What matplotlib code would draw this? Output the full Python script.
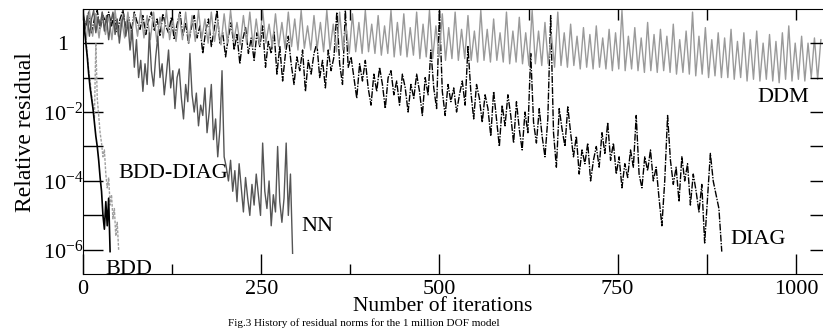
import numpy as np
import matplotlib.pyplot as plt

plt.rcParams["font.family"] = ["Liberation Serif", "DejaVu Serif"]
plt.rcParams["mathtext.fontset"] = "custom"
plt.rcParams["mathtext.rm"] = "Liberation Serif"
plt.rcParams["mathtext.default"] = "regular"

# log10 of the relative residual
ddm_step = 4.5
ddm_log = [
    0.6, 0.1, 0.95, 0.2, 0.85, 0.15, 0.9, 0.25, 0.8, 0.1,
    0.95, 0.2, 0.7, 0.15, 0.9, 0.1, 0.85, 0.2, 0.95, 0.15,
    0.8, 0.1, 0.9, 0.05, 0.75, 0.15, 0.95, 0.1, 0.7, 0.05,
    0.85, 0.1, 0.9, 0.0, 0.8, 0.05, 0.95, 0.1, 0.7, 0.0,
    0.9, 0.05, 0.65, -0.05, 0.85, 0.0, 0.95, 0.05, 0.6, -0.05,
    0.8, 0.0, 0.9, -0.1, 0.7, -0.05, 0.95, 0.0, 0.55, -0.1,
    0.85, -0.1, 0.6, -0.15, 0.9, -0.1, 0.7, -0.2, 0.95, -0.15,
    0.5, -0.2, 0.8, -0.15, 0.6, -0.25, 0.95, -0.2, 0.55, -0.25,
    0.9, -0.2, 0.5, -0.3, 0.85, -0.25, 0.6, -0.3, 0.95, -0.25,
    0.55, -0.3, 0.8, -0.35, 0.5, -0.3, 0.95, -0.4, 0.6, -0.35,
    0.85, -0.4, 0.45, -0.35, 0.9, -0.45, 0.55, -0.4, 0.95, -0.45,
    0.5, -0.4, 0.85, -0.5, 0.45, -0.45, 0.9, -0.5, 0.4, -0.45,
    0.8, -0.5, 0.35, -0.55, 0.95, -0.5, 0.4, -0.55, 0.7, -0.5,
    0.3, -0.55, 0.9, -0.6, 0.35, -0.55, 0.75, -0.6, 0.3, -0.65,
    0.95, -0.6, 0.35, -0.65, 0.6, -0.6, 0.25, -0.7, 0.9, -0.65,
    0.3, -0.7, 0.55, -0.65, 0.2, -0.75, 0.45, -0.7, 0.25, -0.75,
    0.5, -0.7, 0.15, -0.75, 0.4, -0.8, 0.3, -0.75, 0.95, -0.8,
    0.2, -0.75, 0.45, -0.8, 0.15, -0.85, 0.6, -0.8, 0.25, -0.85,
    0.4, -0.8, 0.2, -0.85, 0.55, -0.9, 0.1, -0.85, 0.35, -0.9,
    0.9, -0.95, 0.2, -0.9, 0.45, -1.0, 0.1, -0.95, 0.3, -1.0,
    0.15, -1.0, 0.4, -1.05, 0.05, -1.0, 0.3, -1.1, 0.1, -1.05,
    0.35, -1.1, 0.0, -1.05, 0.25, -1.1, 0.05, -1.15, 0.3, -1.05,
    0.5, -1.1, 0.0, -1.05, 0.2, -1.1, 0.0, -1.0, 0.15, -1.05,
    0.1,
]

diag_step = 4
diag_log = [
    0.8, 0.5, 0.9, 0.3, 0.7, 0.95, 0.4, 0.8, 0.6, 0.9,
    0.5, 0.85, 0.3, 0.7, 0.95, 0.45, 0.75, 0.35, 0.9, 0.6,
    0.4, 0.8, 0.25, 0.65, 0.9, 0.35, 0.7, 0.2, 0.85, 0.5,
    0.3, 0.75, 0.1, 0.55, 0.9, 0.2, 0.6, 0.0, 0.45, 0.8,
    0.15, 0.5, -0.3, 0.35, 0.7, -0.1, 0.4, 0.95, 0.0, 0.3,
    -0.4, 0.2, 0.6, -0.2, 0.25, -0.6, 0.1, 0.45, -0.3, 0.15,
    -0.5, 0.3, -0.1, 0.5, -0.7, 0.05, -0.3, 0.35, -0.9, -0.1,
    -1.1, -0.3, 0.2, -0.6, -1.2, -0.4, -0.8, -0.2, -1.4, -0.5,
    -0.9, -0.3, 0.0, -1.0, -0.5, -1.3, -0.2, -0.8, -0.4, 0.9,
    -0.6, -1.2, 0.95, -0.7, -0.4, -1.0, -1.6, -0.6, -1.1, -0.5,
    -1.3, -1.8, -0.9, -1.4, -0.7, -1.2, -1.9, -1.0, -0.8, -1.5,
    -1.1, -1.8, -0.9, -1.3, -2.0, -1.2, -1.6, -0.9, -1.4, -2.1,
    -1.0, -1.5, -0.2, -1.3, -1.9, 0.95, -1.4, -2.1, -1.2, -1.7,
    -1.3, -2.0, -1.5, -1.1, -1.8, -0.1, -1.4, -2.2, -1.2, -1.6,
    -2.3, -1.5, -1.9, -2.7, -1.4, -2.2, -3.0, -1.8, -2.4, -1.5,
    -2.1, -2.9, -1.7, -2.5, -3.1, -2.0, -2.6, -0.3, -2.3, -2.9,
    -1.9, -2.7, -3.3, -2.2, 0.8, -2.6, -3.6, -1.9, -2.5, -3.0,
    -1.85, -2.6, -3.3, -2.7, -3.8, -3.1, -3.5, -2.9, -4.0, -3.4,
    -3.0, -3.6, -2.6, -3.2, -2.3, -3.4, -2.9, -3.8, -3.3, -4.2,
    -3.5, -3.9, -3.1, -3.6, -2.1, -3.8, -4.2, -3.3, -3.7, -3.1,
    -4.0, -3.6, -4.5, -5.3, -4.0, -2.1, -3.4, -4.1, -3.6, -4.6,
    -3.3, -4.0, -3.5, -4.7, -3.8, -4.3, -4.9, -4.1, -5.8, -4.5,
    -3.2, -4.0, -4.4, -4.8, -6.05,
]

nn_step = 3
nn_log = [
    0.9, 0.4, 0.8, 0.2, 0.7, 0.95, 0.3, 0.75, 0.5, 0.9,
    0.35, 0.8, 0.1, 0.6, 0.9, 0.25, 0.7, 0.0, 0.55, 0.85,
    0.2, 0.6, -0.2, 0.4, -0.7, 0.1, -1.0, -0.5, -1.4, -0.6,
    -1.2, 0.3, -0.8, -1.25, -0.4, 0.2, -1.0, -0.6, -1.5, -0.9,
    -0.2, -1.3, -0.8, -1.9, -1.0, -0.75, -1.6, -2.2, -1.2, -1.7,
    -0.3, -1.5, -2.0, -1.45, -2.4, -1.8, -2.1, -1.3, -2.6, -2.0,
    -1.2, -2.8, -2.2, -3.3, -2.5, -0.8, -3.3, -3.6, -4.0, -3.4,
    -4.3, -3.7, -4.6, -3.5, -4.2, -4.9, -3.9, -4.5, -5.0, -4.1,
    -4.7, -3.8, -4.4, -5.0, -2.9, -4.3, -4.8, -4.0, -5.3, -4.4,
    -4.9, -3.0, -4.6, -5.2, -4.5, -2.9, -5.0, -3.8, -6.1,
]

bdd_step = 2
bdd_log = [
    0.95, 0.4, 0.0, -0.4, -0.9, -1.3, -1.6, -1.9, -2.3, -2.7,
    -3.0, -3.4, -3.9, -4.3, -5.0, -5.4, -4.6, -5.3, -4.5, -6.05,
]

bdd_diag_step = 2
bdd_diag_log = [
    0.9, 0.5, 0.1, -0.3, -0.8, -1.1, -1.5, -1.8, -2.2, 0.0,
    -1.6, -2.1, -2.6, -2.9, -3.3, -3.1, -3.8, -4.2, -3.9, -4.7,
    -4.4, -5.1, -4.8, -5.6, -5.2, -6.0,
]

x_major = [0, 250, 500, 750, 875, 1000]
x_major_labels = ["0", "250", "500", "750", "", "1000"]
x_minor = [125, 375, 625]
x_top = [0, 125, 250, 375, 500, 625, 750, 875, 1000]
y_ticks = [1, 1e-1, 1e-2, 1e-3, 1e-4, 1e-5, 1e-6]
y_labels = ["1", "", "10$^{-2}$", "", "10$^{-4}$", "", "10$^{-6}$"]


def series(vals, step):
    vals = np.array(vals)
    return np.arange(len(vals)) * step, 10.0 ** vals


fig = plt.figure(figsize=(8.23, 3.29), dpi=100)
ax = fig.add_axes([83 / 823, 55 / 329, 740 / 823, 265 / 329])

x, y = series(diag_log, diag_step)
ax.plot(x, y, color="black", lw=1.0, ls=(0, (5, 1, 1, 1)))
x, y = series(ddm_log, ddm_step)
ax.plot(x, y, color="#9a9a9a", lw=1.0)
x, y = series(nn_log, nn_step)
ax.plot(x, y, color="#555555", lw=1.0)
x, y = series(bdd_diag_log, bdd_diag_step)
ax.plot(x, y, color="#a0a0a0", lw=1.0, ls=(0, (2, 1)))
x, y = series(bdd_log, bdd_step)
ax.plot(x, y, color="black", lw=1.2)

ax.set_yscale("log")
ax.set_xlim(0, 1038)
ax.set_ylim(10 ** -6.7, 10 ** 0.99)

ax.set_xticks(x_major)
ax.set_xticklabels(x_major_labels)
ax.set_xticks(x_minor, minor=True)
ax.set_yticks(y_ticks)
ax.set_yticklabels(y_labels)
ax.yaxis.set_minor_locator(plt.NullLocator())
ax.tick_params(axis="x", which="major", direction="in", length=14.4, width=1,
               labelsize=16, pad=4)
ax.tick_params(axis="x", which="minor", direction="in", length=7.5, width=1)
ax.tick_params(axis="y", direction="in", length=14.4, width=1, labelsize=16, pad=14.4)
for lab in ax.get_yticklabels():
    lab.set_horizontalalignment("center")
ax.spines["right"].set_visible(False)

# ticks along top and right edge
top = ax.twiny()
top.set_xlim(ax.get_xlim())
top.set_xticks(x_top)
top.set_xticklabels([])
top.tick_params(axis="x", direction="in", length=8, width=1)
for s in top.spines.values():
    s.set_visible(False)
right = ax.twinx()
right.set_yscale("log")
right.set_ylim(ax.get_ylim())
right.set_yticks(y_ticks)
right.set_yticklabels([])
right.yaxis.set_minor_locator(plt.NullLocator())
right.tick_params(axis="y", direction="in", length=9.4, width=1)
for s in right.spines.values():
    s.set_visible(False)

ax.set_xlabel("Number of iterations", fontsize=15.5)
ax.xaxis.set_label_coords(0.486, -0.088)
ax.set_ylabel("Relative residual", fontsize=17)
ax.yaxis.set_label_coords(-0.064, 0.536)

ax.text(49, 10 ** -3.77, "BDD-DIAG", fontsize=16, ha="left", va="center")
ax.text(32, 10 ** -6.7, "BDD", fontsize=16, ha="left", va="baseline")
ax.text(306, 10 ** -5.33, "NN", fontsize=16, ha="left", va="center")
ax.text(946, 10 ** -1.59, "DDM", fontsize=16, ha="left", va="center")
ax.text(908, 10 ** -5.71, "DIAG", fontsize=16, ha="left", va="center")

fig.text(228 / 823, 2.5 / 329, "Fig.3 History of residual norms for the 1 million DOF model",
         fontsize=8, ha="left", va="baseline")

fig.savefig("out.png", dpi=100)
